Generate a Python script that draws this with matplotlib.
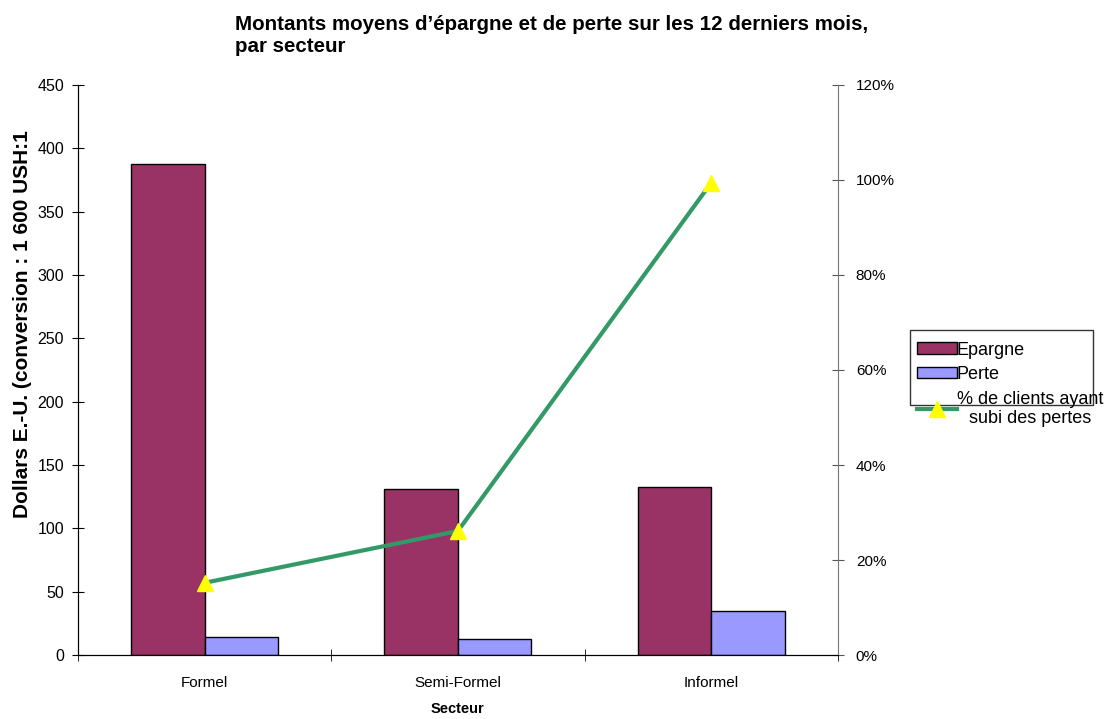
import numpy as np
import matplotlib.pyplot as plt
from matplotlib.ticker import FuncFormatter
from matplotlib.patches import Rectangle

secteurs = ['Formel', 'Semi-Formel', 'Informel']
epargne = [388, 131, 132.5]
perte = [14, 12.5, 35]
pct_pertes = [15.2, 26.1, 99.4]

plt.rcParams['font.family'] = ['Liberation Sans', 'DejaVu Sans']

fig = plt.figure(figsize=(11.06, 7.19), dpi=100)
ax = fig.add_axes([0.0705, 0.089, 0.687, 0.7928])
x = np.arange(len(secteurs))
w = 0.29
b1 = ax.bar(x - w / 2, epargne, w, color='#993366', edgecolor='black', linewidth=1, label='Epargne')
b2 = ax.bar(x + w / 2, perte, w, color='#9999FF', edgecolor='black', linewidth=1, label='Perte')
ax.set_xlim(-0.5, 2.5)
ax.set_ylim(0, 450)
ax.set_yticks(range(0, 451, 50))
ax.set_xticks(x)
ax.set_xticklabels(secteurs, fontsize=11)
ax.set_xticks([-0.5, 0.5, 1.5, 2.5], minor=True)
ax.tick_params(axis='x', which='major', length=0, pad=15)
ax.tick_params(axis='x', which='minor', length=8, direction='inout')
ax.tick_params(axis='y', direction='inout', length=8, labelsize=11.5, pad=6)
ax.spines['top'].set_visible(False)
ax.spines['right'].set_visible(False)
ax.set_xlabel('Secteur', fontsize=10.5, fontweight='bold', labelpad=9)
ax.set_ylabel('Dollars E.-U. (conversion : 1 600 USH:1', fontsize=15, fontweight='bold')
ax.yaxis.set_label_coords(-0.061, 0.58)

ax2 = ax.twinx()
ln, = ax2.plot(x, pct_pertes, color='#339966', linewidth=3, marker='^', markersize=12,
               markerfacecolor='#FFFF00', markeredgecolor='#FFFF00',
               label='% de clients ayant\nsubi des pertes')
ax2.set_ylim(0, 120)
ax2.set_yticks(range(0, 121, 20))
ax2.yaxis.set_major_formatter(FuncFormatter(lambda v, p: '%d%%' % v))
ax2.tick_params(axis='y', direction='inout', length=8, labelsize=11, color='#555555', pad=9)
ax2.spines['top'].set_visible(False)
ax2.spines['right'].set_color('#777777')

fig.text(0.2125, 0.922, "Montants moyens d\u2019épargne et de perte sur les 12 derniers mois,\npar secteur",
         fontsize=14.8, fontweight='bold', ha='left', va='bottom', linespacing=1.22)

leg = fig.legend([b1, b2, ln], ['Epargne', 'Perte', '% de clients ayant\nsubi des pertes'],
                 loc='upper left', bbox_to_anchor=(0.826, 0.530), fontsize=13,
                 frameon=False, handlelength=2.2, handleheight=0.6,
                 handletextpad=0.0, borderpad=0.2, labelspacing=0.42, borderaxespad=0)
for t in leg.get_texts():
    t.set_multialignment('center')

fig.patches.append(Rectangle((910 / 1106, 1 - 405 / 719), 183 / 1106, 75 / 719,
                             transform=fig.transFigure, fill=False,
                             edgecolor='#333333', linewidth=1))

fig.savefig('out.png', dpi=100)
